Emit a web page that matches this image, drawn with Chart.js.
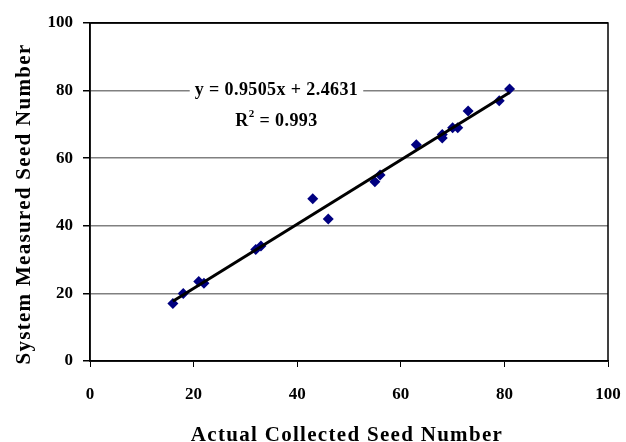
<!DOCTYPE html>
<html>
<head>
<meta charset="utf-8">
<script src="https://cdn.jsdelivr.net/npm/chart.js@4"></script>
<style>
  html, body { margin: 0; padding: 0; background: #fff; }
  #wrap { width: 626px; height: 442px; }
</style>
</head>
<body>
<div id="wrap"><canvas id="seedChart"></canvas></div>
<script>
// actual (x) vs system measured (y) seed counts
const actualSeeds = [16, 18, 21, 22, 32, 33, 43, 46, 55, 56, 63, 68, 68, 70, 71, 73, 79, 81];
const measuredSeeds = [17, 20, 23.5, 23, 33, 34, 48, 42, 53, 55, 64, 67, 66, 69, 69, 74, 77, 80.5];
const slope = 0.9505;
const intercept = 2.4631;
const rSquared = 0.993;
const axisTicks = [0, 20, 40, 60, 80, 100];
const xTitle = "Actual Collected Seed Number";
const yTitle = "System Measured Seed Number";

const points = actualSeeds.map((x, i) => ({ x: x, y: measuredSeeds[i] }));
const xMin = Math.min(...actualSeeds);
const xMax = Math.max(...actualSeeds);
const trend = [xMin, xMax].map(x => ({ x: x, y: slope * x + intercept }));

const serif = "'Liberation Serif', 'Times New Roman', serif";

// black frame round the plot area
const framePlugin = {
    id: "frame",
    afterDraw(chart) {
        const a = chart.chartArea;
        const ctx = chart.ctx;
        ctx.save();
        ctx.strokeStyle = "#000";
        ctx.lineWidth = 1.5;
        ctx.strokeRect(a.left, a.top, a.right - a.left, a.bottom - a.top);
        ctx.restore();
    }
};

// axis titles, spaced out like the original
const titlePlugin = {
    id: "axisTitles",
    afterDraw(chart) {
        const ctx = chart.ctx;
        ctx.save();
        ctx.fillStyle = "#000";
        ctx.font = "bold 21px " + serif;
        ctx.letterSpacing = "1.3px";
        ctx.textAlign = "center";
        ctx.textBaseline = "alphabetic";
        ctx.fillText(xTitle, 347, 441);
        ctx.translate(30, 204);
        ctx.rotate(-Math.PI / 2);
        ctx.fillText(yTitle, 0, 0);
        ctx.restore();
    }
};

// trendline equation label with white box
const eqPlugin = {
    id: "equation",
    afterDatasetsDraw(chart) {
        const ctx = chart.ctx;
        const xs = chart.scales.x, ys = chart.scales.y;
        const cx = xs.getPixelForValue(36);
        const cy = ys.getPixelForValue(80);
        ctx.save();
        ctx.font = "bold 18px " + serif;
        ctx.letterSpacing = "0.4px";
        ctx.textAlign = "center";
        ctx.textBaseline = "middle";
        const line1 = "y = " + slope + "x + " + intercept;
        const w = ctx.measureText(line1).width;
        ctx.fillStyle = "#fff";
        ctx.fillRect(cx - w / 2 - 5, cy - 11, w + 10, 22);
        ctx.fillStyle = "#000";
        ctx.fillText(line1, cx, cy);
        // R^2 with superscript
        const y2 = cy + 31;
        const a = "R", b = " = " + rSquared;
        const wa = ctx.measureText(a).width, wb = ctx.measureText(b).width;
        ctx.font = "bold 11px " + serif;
        const ws = ctx.measureText("2").width;
        const start = cx - (wa + ws + wb) / 2;
        ctx.textAlign = "left";
        ctx.font = "bold 18px " + serif;
        ctx.fillText(a, start, y2);
        ctx.fillText(b, start + wa + ws, y2);
        ctx.font = "bold 11px " + serif;
        ctx.fillText("2", start + wa, y2 - 7);
        ctx.restore();
    }
};

new Chart("seedChart", {
    type: "scatter",
    data: {
        datasets: [{
            label: "Seeds",
            data: points,
            pointStyle: "rectRot",
            pointRadius: 5.5,
            pointHoverRadius: 5.5,
            backgroundColor: "#000080",
            borderColor: "#000080",
            borderWidth: 0,
            order: 2
        }, {
            label: "Linear",
            type: "line",
            data: trend,
            borderColor: "#000",
            borderWidth: 3,
            pointRadius: 0,
            fill: false,
            order: 1
        }]
    },
    options: {
        responsive: true,
        maintainAspectRatio: false,
        animation: false,
        layout: { padding: { top: 23, right: 18, left: 0, bottom: 0 } },
        plugins: {
            legend: { display: false },
            tooltip: { enabled: false }
        },
        scales: {
            x: {
                type: "linear",
                min: 0,
                max: 100,
                afterBuildTicks(scale) { scale.ticks = axisTicks.map(v => ({ value: v })); },
                afterFit(scale) {
                    scale.height = 81;
                    scale.paddingLeft = 0;
                    scale.paddingRight = 0;
                },
                grid: {
                    drawOnChartArea: false,
                    drawTicks: true,
                    tickLength: 6,
                    tickColor: "#000"
                },
                border: { color: "#000", width: 1.5 },
                ticks: {
                    color: "#000",
                    font: { family: serif, size: 17, weight: "bold" },
                    padding: 17,
                    maxRotation: 0
                }
            },
            y: {
                type: "linear",
                min: 0,
                max: 100,
                afterBuildTicks(scale) { scale.ticks = axisTicks.map(v => ({ value: v })); },
                afterFit(scale) {
                    scale.width = 90;
                    scale.paddingTop = 0;
                    scale.paddingBottom = 0;
                },
                grid: {
                    color: ctx => (ctx.tick && ctx.tick.value === 100) ? "#000" : "#808080",
                    lineWidth: 1.5,
                    drawTicks: true,
                    tickLength: 7,
                    tickColor: "#000"
                },
                border: { color: "#000", width: 1.5 },
                ticks: {
                    color: "#000",
                    font: { family: serif, size: 17, weight: "bold" },
                    padding: 10
                }
            }
        }
    },
    plugins: [framePlugin, eqPlugin, titlePlugin]
});
</script>
</body>
</html>
